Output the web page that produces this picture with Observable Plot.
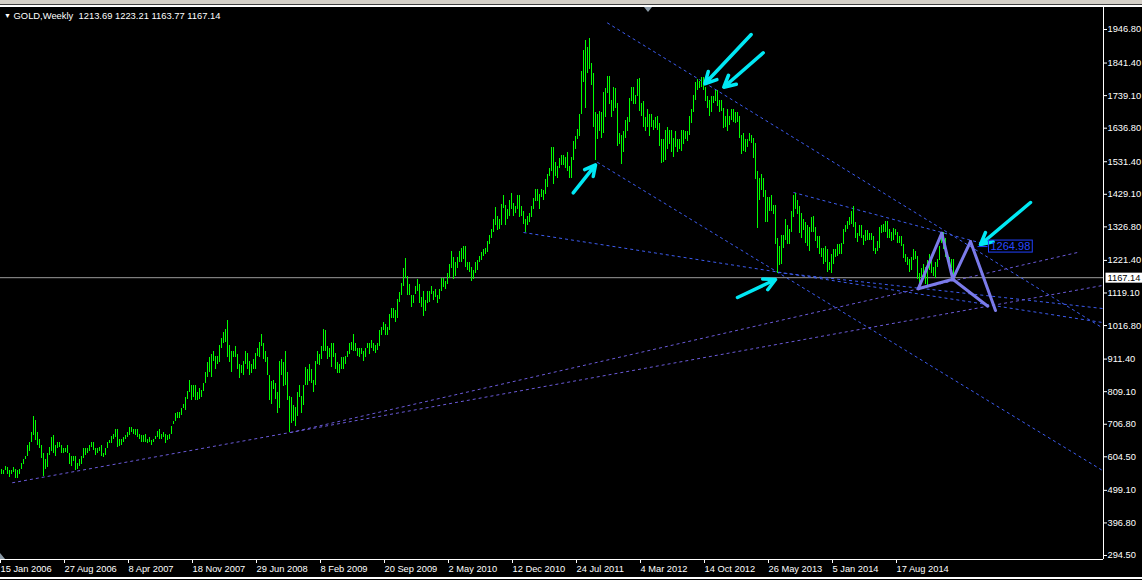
<!DOCTYPE html>
<html><head><meta charset="utf-8">
<script src="https://cdn.jsdelivr.net/npm/d3@7"></script>
<script src="https://cdn.jsdelivr.net/npm/@observablehq/plot@0.6"></script>
<style>
html,body{margin:0;padding:0;background:#000;width:1142px;height:580px;overflow:hidden;}
#wrap{position:relative;width:1142px;height:580px;}
#chart svg{display:block;}
.ct1{position:absolute;left:0;top:0;width:1142px;height:4px;background:#d4d0c8;border-bottom:1px solid #404040;}
.ct2{position:absolute;left:0;top:5px;width:1142px;height:2px;background:#fff;}
.cb{position:absolute;left:0;top:577px;width:1142px;height:2px;background:#fff;}
.title{position:absolute;left:4px;top:10px;color:#fff;font:9.4px "Liberation Sans",Arial,sans-serif;white-space:pre;}
.title .tri{font-size:7px;position:relative;top:-1px;}
.shiftTop{position:absolute;left:644px;top:7px;width:0;height:0;border-left:4px solid transparent;border-right:4px solid transparent;border-top:5px solid #8a99a6;}
.shiftBot{position:absolute;left:0;top:553px;width:0;height:0;border-bottom:6px solid #8a99a6;border-right:5px solid transparent;}
</style></head>
<body>
<div id="wrap">
<div id="chart"></div>
<div class="ct1"></div><div class="ct2"></div><div class="cb"></div>
<div class="shiftTop"></div><div class="shiftBot"></div>
<div class="title"><span class="tri">▼</span> GOLD,Weekly  1213.69 1223.21 1163.77 1167.14</div>
</div>
<script>
// Weekly bars [low, high], first bar = week of 15 Jan 2006
const wk2006 = [[548,565],[550,562],[560,575],[549,572],[540,560],[550,562],[555,570],[535,565],[537,560],[550,565],
[565,585],[580,595],[595,605],[605,640],[620,650],[650,682],[672,730],[655,720],[640,680],[630,660],
[600,640],[542,615],[565,595],[570,615],[610,635],[620,665],[615,670],[605,640],[630,650],[635,650],
[615,640],[615,632],[618,630],[615,640],[580,615],[575,605],[590,605],[560,605],[565,585],[575,595],
[580,605],[600,630],[610,630],[615,632],[620,640],[635,650],[625,650],[610,630],[615,630],[620,635],
[605,640]];
const wk2007 = [[603,615],[610,632],[630,650],[645,655],[645,668],[660,675],[665,690],[635,690],[636,660],[640,660],
[650,665],[660,670],[665,680],[670,695],[680,695],[675,690],[670,690],[665,690],[660,675],[650,670],
[650,670],[650,675],[645,660],[650,665],[640,655],[650,660],[660,668],[665,685],[660,690],[660,675],
[665,680],[645,675],[655,670],[660,675],[675,700],[705,715],[715,740],[725,745],[725,745],[735,755],
[755,770],[750,790],[785,810],[805,845],[780,830],[790,830],[780,830],[780,805],[785,820],[790,812],
[810,835],[835,870]];
const wk2008 = [[855,900],[870,915],[855,925],[905,935],[880,920],[895,920],[900,955],[945,975],[960,995],[965,1005],
[915,1033],[900,955],[870,935],[915,935],[915,950],[880,925],[850,895],[865,890],[860,905],[895,935],
[880,930],[860,905],[865,895],[880,910],[880,930],[920,945],[915,965],[950,990],[910,960],[900,935],
[860,915],[780,860],[770,840],[815,845],[785,835],[740,805],[755,905],[860,910],[825,900],[830,935],
[780,870],[681,795],[710,790],[715,765],[700,760],[730,805],[790,830],[740,795],[765,830],[830,885],
[830,880],[840,895]];
const wk2009 = [[835,880],[805,845],[830,905],[895,935],[890,925],[910,950],[935,1005],[935,1000],[910,950],[915,945],
[885,960],[915,960],[880,930],[865,900],[865,895],[880,915],[880,915],[895,920],[915,935],[925,960],
[940,965],[935,990],[935,960],[920,945],[915,945],[925,945],[905,935],[915,945],[945,960],[925,960],
[945,970],[935,960],[930,955],[940,960],[950,1000],[985,1010],[1000,1025],[985,1020],[985,1010],[1000,1050],
[1040,1070],[1040,1070],[1025,1065],[1040,1100],[1090,1120],[1110,1150],[1140,1195],[1165,1227],[1110,1170],[1110,1145],
[1075,1110],[1085,1110]];
const wk2010 = [[1115,1140],[1125,1160],[1085,1145],[1075,1105],[1045,1125],[1060,1095],[1085,1125],[1090,1125],[1115,1140],[1095,1125],
[1105,1130],[1085,1110],[1100,1130],[1125,1165],[1135,1165],[1130,1155],[1145,1180],[1165,1210],[1195,1250],[1160,1230],
[1170,1215],[1195,1230],[1215,1250],[1215,1260],[1225,1265],[1200,1265],[1190,1215],[1185,1215],[1155,1200],[1160,1190],
[1180,1215],[1190,1220],[1215,1235],[1220,1245],[1235,1255],[1240,1260],[1245,1280],[1270,1300],[1290,1320],[1310,1350],
[1330,1388],[1315,1360],[1320,1350],[1330,1398],[1385,1425],[1330,1395],[1350,1380],[1360,1410],[1380,1432],[1360,1400],
[1370,1390],[1380,1425]];
const wk2011 = [[1355,1425],[1360,1390],[1335,1375],[1309,1350],[1330,1360],[1340,1370],[1355,1390],[1380,1415],[1405,1445],[1405,1445],
[1380,1430],[1420,1445],[1410,1440],[1430,1475],[1450,1490],[1485,1510],[1500,1575],[1460,1575],[1485,1530],[1480,1515],
[1510,1540],[1520,1550],[1520,1550],[1510,1545],[1500,1560],[1478,1515],[1480,1545],[1535,1595],[1570,1610],[1600,1632],
[1610,1680],[1680,1815],[1780,1880],[1700,1912],[1810,1890],[1820,1920],[1770,1840],[1640,1810],[1535,1685],[1600,1680],
[1625,1690],[1605,1685],[1620,1750],[1670,1760],[1745,1800],[1710,1800],[1670,1725],[1690,1765],[1700,1760],[1580,1715],
[1585,1620],[1523,1615]];
const wk2012 = [[1560,1625],[1605,1660],[1625,1670],[1655,1730],[1720,1765],[1710,1765],[1710,1740],[1735,1790],[1690,1792],[1675,1715],
[1640,1720],[1625,1670],[1640,1695],[1610,1680],[1640,1680],[1630,1660],[1635,1670],[1630,1675],[1580,1650],[1527,1600],
[1530,1600],[1535,1630],[1570,1640],[1585,1630],[1560,1630],[1545,1605],[1575,1625],[1560,1600],[1570,1600],[1565,1630],
[1585,1630],[1600,1625],[1595,1625],[1615,1675],[1650,1695],[1685,1740],[1725,1780],[1755,1790],[1760,1785],[1765,1796],
[1755,1795],[1720,1765],[1700,1735],[1675,1725],[1685,1735],[1715,1735],[1720,1755],[1705,1755],[1685,1725],[1690,1725],
[1635,1700],[1640,1675]];
const wk2013 = [[1625,1695],[1645,1675],[1660,1695],[1655,1695],[1650,1685],[1655,1685],[1605,1675],[1555,1615],[1565,1620],[1560,1600],
[1575,1600],[1595,1620],[1590,1615],[1540,1605],[1475,1590],[1321,1500],[1410,1480],[1440,1490],[1420,1480],[1340,1440],
[1340,1420],[1375,1420],[1375,1425],[1365,1395],[1270,1395],[1180,1290],[1205,1265],[1210,1300],[1260,1300],[1285,1350],
[1270,1330],[1270,1320],[1310,1375],[1355,1425],[1380,1433],[1365,1410],[1305,1390],[1290,1370],[1315,1350],[1275,1340],
[1265,1330],[1250,1325],[1310,1355],[1310,1360],[1280,1325],[1260,1295],[1240,1295],[1230,1260],[1210,1260],[1215,1265],
[1185,1255],[1190,1215]];
const wk2014 = [[1180,1240],[1210,1255],[1230,1256],[1235,1270],[1240,1270],[1240,1275],[1270,1320],[1310,1332],[1320,1345],[1330,1355],
[1335,1375],[1325,1392],[1290,1340],[1277,1305],[1295,1330],[1290,1330],[1268,1300],[1280,1315],[1285,1315],[1285,1305],
[1285,1305],[1250,1295],[1240,1260],[1250,1280],[1260,1325],[1305,1330],[1310,1335],[1310,1345],[1290,1345],[1290,1320],
[1280,1310],[1285,1322],[1300,1320],[1275,1310],[1275,1295],[1265,1295],[1228,1270],[1215,1240],[1205,1230],[1185,1225],
[1190,1230],[1220,1255],[1225,1250],[1160,1235],[1131,1180],[1145,1195],[1180,1210],[1145,1200],[1140,1220],[1190,1240],
[1180,1225],[1170,1200],[1165,1215],[1200,1225],[1220,1265],[1275,1307],[1255,1310],[1230,1290],[1215,1245],[1195,1230],
[1195,1225],[1163.77,1223.21]];

const lastPrice = 1167.14;
const priceLabel = 1264.98;
const yTicks = [1946.80,1841.40,1739.10,1636.80,1531.40,1429.10,1326.80,1221.40,1119.10,1016.80,911.40,809.10,706.80,604.50,499.10,396.80,294.50];
const xTickLabels = ["15 Jan 2006","27 Aug 2006","8 Apr 2007","18 Nov 2007","29 Jun 2008","8 Feb 2009","20 Sep 2009","2 May 2010","12 Dec 2010","24 Jul 2011","4 Mar 2012","14 Oct 2012","26 May 2013","5 Jan 2014","17 Aug 2014"];

// Drawn objects, anchored in (week index, price)
const trendLines = [
  {w1:302.85,p1:1967.8,w2:550.5,p2:1009.4,kind:"upper"},
  {w1:297.85,p1:1529.9,w2:550.5,p2:561.5,kind:"upper"},
  {w1:261,p1:1309.1,w2:550.5,p2:1026.4,kind:"upper"},
  {w1:396,p1:1434.8,w2:494.5,p2:1268,kind:"upper"},
  {w1:388,p1:1183.5,w2:550.5,p2:1070.4,kind:"upper"},
  {w1:5.35,p1:522.8,w2:550.5,p2:1142.6,kind:"lower"},
  {w1:144.5,p1:680.8,w2:538,p2:1246.3,kind:"lower"}
];
const patternPts = {X:[458.35,1132.2],A:[470.15,1306.9],B:[475.65,1162.4],C:[484.5,1280.8],D:[497,1064.1],E:[493.15,1077.6]};
const patternSegs = [["X","A"],["A","B"],["X","B"],["B","C"],["C","D"],["B","E"]];
const arrows = [
  {w1:374.85,p1:1931.1,w2:351.65,p2:1776.2},
  {w1:380.85,p1:1873.6,w2:361.15,p2:1765.5},
  {w1:285.85,p1:1433.8,w2:297,p2:1521.8},
  {w1:368,p1:1104.9,w2:387,p2:1161.5},
  {w1:514.5,p1:1403.4,w2:489.5,p2:1271.4}
];
const labelAnchor = {w:494.5, wDash1:488, wDash2:493};

// build tables
const bars = [wk2006,wk2007,wk2008,wk2009,wk2010,wk2011,wk2012,wk2013,wk2014].flat().map(([lo,hi],i)=>({i,lo,hi}));
const parseD = d3.utcParse("%d %b %Y");
const t0 = parseD(xTickLabels[0]);
const weekOf = s => Math.round((parseD(s) - t0) / (7*864e5));
const labelByWeek = new Map(xTickLabels.map(s => [weekOf(s), s]));
const segs = patternSegs.map(([a,b]) => ({w1:patternPts[a][0],p1:patternPts[a][1],w2:patternPts[b][0],p2:patternPts[b][1]}));

const FONT = "'Liberation Sans',Arial,sans-serif";
const GREEN = "#00ff00";
const yMin = 281.9, yMax = 2015.9, wMin = -0.5, wMax = 551;

const chart = Plot.plot({
  width: 1142, height: 580,
  marginTop: 7, marginBottom: 21, marginLeft: 0, marginRight: 39,
  x: {domain: [wMin, wMax], axis: null},
  y: {domain: [yMin, yMax], axis: null},
  style: {background: "#000", color: GREEN, fontFamily: FONT, fontSize: "9.3px"},
  marks: [
    Plot.ruleY([lastPrice], {stroke: "#9c9c9c", strokeWidth: 1}),
    Plot.link(trendLines, {x1:"w1", y1:"p1", x2:"w2", y2:"p2", stroke: d => d.kind === "upper" ? "#3d5cf0" : "#6a5ad8", strokeWidth: 1, strokeDasharray: "3,3", clip: true}),
    Plot.ruleX(bars, {x: "i", y1: "lo", y2: "hi", stroke: GREEN, strokeWidth: 1, shapeRendering: "crispEdges"}),
    Plot.link(segs, {x1:"w1", y1:"p1", x2:"w2", y2:"p2", stroke: "#7b7bea", strokeWidth: 3, strokeLinecap: "round", clip: true}),
    Plot.arrow(arrows, {x1:"w1", y1:"p1", x2:"w2", y2:"p2", stroke: "#00e8f4", strokeWidth: 3.5, headLength: 5.5, headAngle: 55}),
    Plot.link([labelAnchor], {x1:"wDash1", x2:"wDash2", y1: () => priceLabel, y2: () => priceLabel, stroke: "#2040ff", strokeWidth: 1}),
    Plot.text([labelAnchor], {x: "w", y: () => priceLabel, text: () => priceLabel.toFixed(2), textAnchor: "start", fill: "#2848ff", fontSize: 11}),
    Plot.ruleY([yMin], {stroke: "#fff", strokeWidth: 1}),
    Plot.ruleX([wMax], {stroke: "#fff", strokeWidth: 1}),
    Plot.axisY({ticks: yTicks, anchor: "right", tickSize: 3, tickPadding: 1, tickFormat: d => d.toFixed(2), stroke: "#fff", fill: "#fff"}),
    Plot.axisX({ticks: [...labelByWeek.keys()], anchor: "bottom", tickSize: 4, tickPadding: 2, tickFormat: d => labelByWeek.get(d), textAnchor: "start", dx: -1, stroke: "#fff", fill: "#fff"}),
    Plot.text([lastPrice], {y: d => d, frameAnchor: "right", dx: 4, textAnchor: "start", text: d => d.toFixed(2), fill: "#000"})
  ]
});
document.getElementById("chart").append(chart);

function boxText(str, fill, stroke, padL, padR, padY, extendRight) {
  const t = [...chart.querySelectorAll("text")].find(e => e.textContent === str && !e.closest("[aria-label^='y-axis']"));
  if (!t) return;
  const b = t.getBBox();
  const r = document.createElementNS("http://www.w3.org/2000/svg", "rect");
  r.setAttribute("x", b.x - padL);
  r.setAttribute("y", b.y - padY);
  r.setAttribute("width", b.width + padL + padR + (extendRight || 0));
  r.setAttribute("height", b.height + 2 * padY);
  r.setAttribute("fill", fill);
  if (stroke) { r.setAttribute("stroke", stroke); r.setAttribute("stroke-width", 1); }
  const tr = t.getAttribute("transform");
  if (tr) r.setAttribute("transform", tr);
  t.parentNode.insertBefore(r, t);
}
boxText(priceLabel.toFixed(2), "none", "#2040ff", 2, 2, 0, 0);
boxText(lastPrice.toFixed(2), "#fff", null, 2, 2, 0, 6);
</script>
</body></html>
